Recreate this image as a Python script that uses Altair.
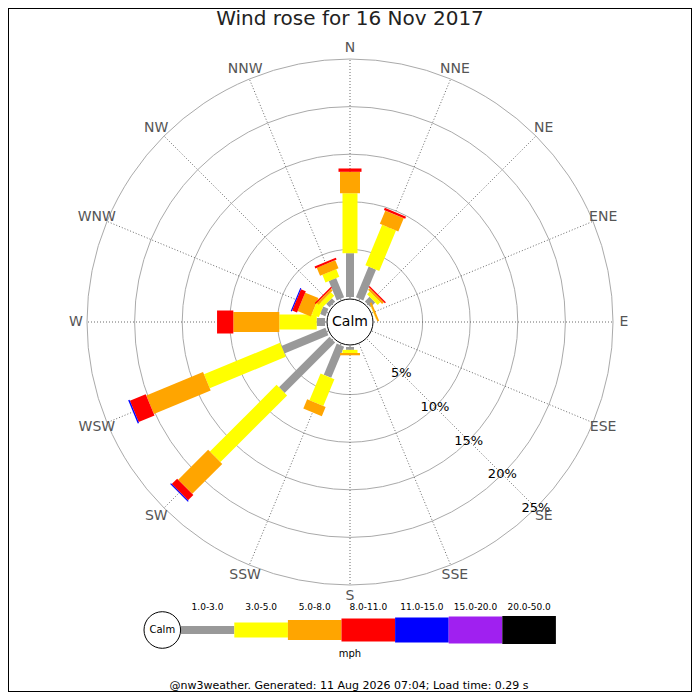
"""
Wind rose for 16 Nov 2017 (nw3weather style)
Stacked speed bins per compass direction, drawn as thick radial rules.
"""

import altair as alt
import pandas as pd

# ============================================================================
# DATA
# ============================================================================

directions = ["N", "NNE", "NE", "ENE", "E", "ESE", "SE", "SSE",
              "S", "SSW", "SW", "WSW", "W", "WNW", "NW", "NNW"]

speed_bins = ["1.0-3.0", "3.0-5.0", "5.0-8.0", "8.0-11.0",
              "11.0-15.0", "15.0-20.0", "20.0-50.0"]

# % of the day in each direction, per speed bin (mph)
pct_1_3 = [4.6, 3.5, 0.7, 0.0, 0.0, 0.0, 0.0, 0.0,
           0.3, 3.55, 7.5, 5.0, 0.87, 0.6, 0.5, 2.2]
pct_3_5 = [6.3, 4.6, 0.4, 0.05, 0.0, 0.0, 0.0, 0.0,
           0.33, 3.05, 9.9, 8.65, 3.93, 0.8, 0.5, 0.86]
pct_5_8 = [2.25, 1.5, 0.25, 0.2, 0.0, 0.0, 0.0, 0.0,
           0.24, 1.05, 4.45, 6.45, 4.83, 1.5, 0.25, 0.91]
pct_8_11 = [0.35, 0.25, 0.15, 0.0, 0.0, 0.0, 0.0, 0.0,
            0.0, 0.0, 0.8, 1.8, 1.71, 0.55, 0.15, 0.22]
pct_11_15 = [0.0, 0.0, 0.0, 0.0, 0.0, 0.0, 0.0, 0.0,
             0.0, 0.0, 0.12, 0.15, 0.0, 0.12, 0.0, 0.0]
pct_15_20 = [0.0, 0.0, 0.0, 0.0, 0.0, 0.0, 0.0, 0.0,
             0.0, 0.0, 0.0, 0.0, 0.0, 0.0, 0.0, 0.0]
pct_20_50 = [0.0, 0.0, 0.0, 0.0, 0.0, 0.0, 0.0, 0.0,
             0.0, 0.0, 0.0, 0.0, 0.0, 0.0, 0.0, 0.0]

ring_pcts = [5, 10, 15, 20, 25]

title_text = "Wind rose for 16 Nov 2017"
footer_text = "@nw3weather. Generated: 11 Aug 2026 07:04; Load time: 0.29 s"

# ============================================================================
# STYLE / LAYOUT
# ============================================================================

bin_colors = ["#999999", "#ffff00", "#ffa500", "#ff0000",
              "#0000ff", "#a020f0", "#000000"]
bin_widths = [8, 15, 20, 23, 25, 27, 28]

CX, CY = 350, 322      # centre of the rose
R0 = 25                # radius where 0 % sits
K = 9.52               # px per 1 %
CALM_R = 23
LABEL_R = 274
FONT = "DejaVu Sans"

series = [pct_1_3, pct_3_5, pct_5_8, pct_8_11, pct_11_15, pct_15_20, pct_20_50]

segments = []
for i, d in enumerate(directions):
    cum = 0.0
    for b, vals in zip(speed_bins, series):
        v = vals[i]
        if v > 0:
            segments.append({"dir": d, "bearing": i * 22.5, "bin": b,
                             "lo": cum, "hi": cum + v})
            cum += v
seg_df = pd.DataFrame(segments)

dir_df = pd.DataFrame({"dir": directions,
                       "bearing": [i * 22.5 for i in range(len(directions))]})
ring_df = pd.DataFrame({"pct": ring_pcts})

# shared pixel-like scales
xs = alt.Scale(domain=[8, 692])
ys = alt.Scale(domain=[8, 692], reverse=True)


def X(f):
    return alt.X(f, type="quantitative", scale=xs, axis=None)


def Y(f):
    return alt.Y(f, type="quantitative", scale=ys, axis=None)


def polar(r_expr, name):
    # x/y of radius r_expr along datum.bearing
    return {
        name + "x": f"{CX} + ({r_expr}) * sin(datum.bearing * PI / 180)",
        name + "y": f"{CY} - ({r_expr}) * cos(datum.bearing * PI / 180)",
    }


# ============================================================================
# GRID: rings and spokes
# ============================================================================

rings = alt.Chart(ring_df).mark_point(
    shape="circle", filled=False, stroke="#aaaaaa", strokeWidth=1, opacity=1
).transform_calculate(
    cx=f"{CX}", cy=f"{CY}",
    size=f"pow(2 * ({R0} + {K} * datum.pct), 2)"
).encode(
    x=X("cx"), y=Y("cy"), size=alt.Size("size:Q", scale=None)
)

spokes = alt.Chart(dir_df).mark_rule(
    color="#444444", strokeWidth=0.8, strokeDash=[1, 2]
).transform_calculate(
    **polar("0", "a"), **polar(f"{R0} + {K} * 25", "b")
).encode(
    x=X("ax"), y=Y("ay"), x2="bx:Q", y2="by:Q"
)

# ============================================================================
# BARS: one layer per speed bin, lower bins drawn first
# ============================================================================

bar_layers = []
for b, c, w in zip(speed_bins, bin_colors, bin_widths):
    sub = seg_df[seg_df["bin"] == b]
    if sub.empty:
        continue
    bar_layers.append(
        alt.Chart(sub).mark_rule(color=c, strokeWidth=w, strokeCap="butt").transform_calculate(
            **polar(f"{R0} + {K} * datum.lo", "a"),
            **polar(f"{R0} + {K} * datum.hi", "b")
        ).encode(x=X("ax"), y=Y("ay"), x2="bx:Q", y2="by:Q")
    )

# ============================================================================
# CALM circle and labels
# ============================================================================

centre_df = pd.DataFrame({"x": [CX], "y": [CY], "label": ["Calm"]})

calm_circle = alt.Chart(centre_df).mark_point(
    shape="circle", filled=True, fill="white", stroke="black",
    strokeWidth=1, opacity=1, size=(2 * CALM_R) ** 2
).encode(x=X("x"), y=Y("y"))

calm_text = alt.Chart(centre_df).mark_text(
    font=FONT, fontSize=14, color="black", align="center", baseline="middle"
).encode(x=X("x"), y=Y("y"), text="label:N")

pct_labels = alt.Chart(ring_df).mark_text(
    font=FONT, fontSize=13, color="black", align="center", baseline="middle"
).transform_calculate(
    bearing="135",
    label="datum.pct + '%'",
).transform_calculate(
    **polar(f"{R0} + {K} * datum.pct", "p")
).encode(x=X("px"), y=Y("py"), text="label:N")

compass = alt.Chart(dir_df).mark_text(
    font=FONT, fontSize=14, color="#555555", align="center", baseline="middle"
).transform_calculate(
    **polar(f"{LABEL_R}", "p")
).encode(x=X("px"), y=Y("py"), text="dir:N")

title_df = pd.DataFrame({"x": [350], "y": [25], "label": [title_text]})

title = alt.Chart(title_df).mark_text(
    font=FONT, fontSize=20, color="#222222", align="center", baseline="alphabetic"
).encode(x=X("x"), y=Y("y"), text="label:N")

text_df = pd.DataFrame({
    "x": [350, 349],
    "y": [654, 686],
    "label": ["mph", footer_text],
    "size": [10, 11],
})

unit_text = alt.Chart(text_df.iloc[[0]]).mark_text(
    font=FONT, fontSize=10, color="black", align="center", baseline="middle"
).encode(x=X("x"), y=Y("y"), text="label:N")

footer = alt.Chart(text_df.iloc[[1]]).mark_text(
    font=FONT, fontSize=11, color="black", align="center", baseline="middle"
).encode(x=X("x"), y=Y("y"), text="label:N")

# ============================================================================
# LEGEND (drawn by hand, like the original image)
# ============================================================================

LEG_X0, LEG_STEP, LEG_Y = 180.7, 53.6, 630
legend_df = pd.DataFrame({
    "bin": speed_bins,
    "x0": [LEG_X0 + i * LEG_STEP for i in range(len(speed_bins))],
    "x1": [LEG_X0 + (i + 1) * LEG_STEP for i in range(len(speed_bins))],
    "y": [LEG_Y] * len(speed_bins),
})
legend_df["xm"] = (legend_df["x0"] + legend_df["x1"]) / 2
legend_df["ylab"] = 607

legend_bars = []
for b, c, w in zip(speed_bins, bin_colors, bin_widths):
    legend_bars.append(
        alt.Chart(legend_df[legend_df["bin"] == b]).mark_rule(
            color=c, strokeWidth=w, strokeCap="butt"
        ).encode(x=X("x0"), x2="x1:Q", y=Y("y"))
    )

legend_labels = alt.Chart(legend_df).mark_text(
    font=FONT, fontSize=9, color="black", align="center", baseline="middle"
).encode(x=X("xm"), y=Y("ylab"), text="bin:N")

leg_calm_df = pd.DataFrame({"x": [162.3], "y": [LEG_Y], "label": ["Calm"]})

leg_calm_circle = alt.Chart(leg_calm_df).mark_point(
    shape="circle", filled=True, fill="white", stroke="black",
    strokeWidth=1, opacity=1, size=36.6 ** 2
).encode(x=X("x"), y=Y("y"))

leg_calm_text = alt.Chart(leg_calm_df).mark_text(
    font=FONT, fontSize=10, color="black", align="center", baseline="middle"
).encode(x=X("x"), y=Y("y"), text="label:N")

# ============================================================================
# COMPOSE
# ============================================================================

chart = alt.layer(
    rings, spokes, *bar_layers, calm_circle, calm_text, pct_labels, compass,
    title, unit_text, footer, *legend_bars, leg_calm_circle, leg_calm_text,
    legend_labels
).properties(
    width=684,
    height=684,
    padding=0,
    autosize="none",
    background="white",
).configure_view(
    stroke="black",
    strokeWidth=2,
)

chart.save("out.html", embed_options={"renderer": "svg", "actions": False})
